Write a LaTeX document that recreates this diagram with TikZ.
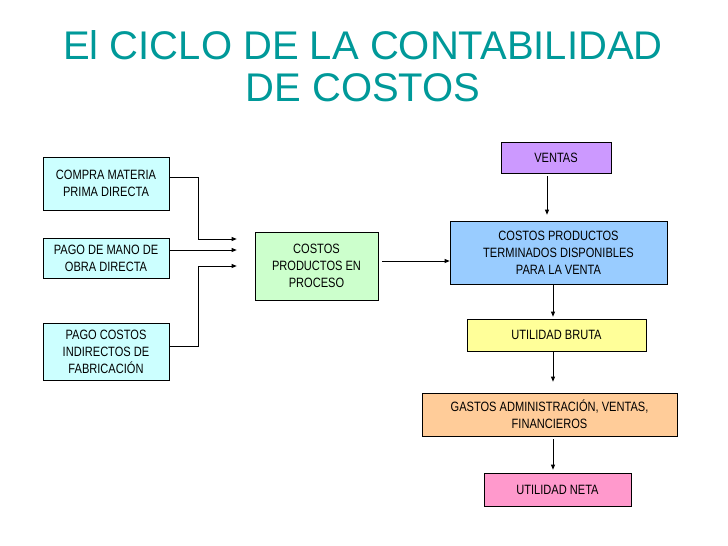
\documentclass[tikz,border=0pt]{standalone}
\usepackage{fontspec}
\setmainfont{Liberation Sans}
\newfontfamily\boxfont[FakeStretch=0.82]{Liberation Sans}
\usepackage{tikz}
\usetikzlibrary{positioning, arrows.meta}
\definecolor{titleteal}{RGB}{0,153,153}
\definecolor{cyanbox}{RGB}{204,255,255}
\definecolor{greenbox}{RGB}{204,255,204}
\definecolor{bluebox}{RGB}{153,204,255}
\definecolor{violetbox}{RGB}{204,153,255}
\definecolor{yellowbox}{RGB}{255,255,153}
\definecolor{orangebox}{RGB}{255,204,153}
\definecolor{pinkbox}{RGB}{255,153,204}

\begin{document}
\begin{tikzpicture}[
    x=1pt, y=-1pt,
    box/.style={
        draw, line width=0.7pt,
        inner sep=0pt, align=center,
        font=\boxfont\fontsize{13.5}{17}\selectfont
    },
    arr/.style={-{Triangle[length=5pt,width=4pt]}, line width=0.7pt},
]
\useasboundingbox (0,0) rectangle (728,546);

% Title
\node[text=titleteal, align=center, font=\fontsize{40}{42}\selectfont] (title) at (363,66)
    {El CICLO DE LA CONTABILIDAD\\DE COSTOS};

% Left column: inputs
\node[box, fill=cyanbox, minimum width=126pt, minimum height=53pt] (compra) at (106,183.5) {COMPRA MATERIA\\PRIMA DIRECTA};
\node[box, fill=cyanbox, minimum width=126pt, minimum height=40pt] (mano) at (106,258) {PAGO DE MANO DE\\OBRA DIRECTA};
\node[box, fill=cyanbox, minimum width=126pt, minimum height=57pt] (indirectos) at (106,351.5) {PAGO COSTOS\\INDIRECTOS DE\\FABRICACIÓN};

% Middle: work in process
\node[box, fill=greenbox, minimum width=123pt, minimum height=68pt] (proceso) at (316.5,266) {COSTOS\\PRODUCTOS EN\\PROCESO};

% Right column
\node[box, fill=violetbox, minimum width=110pt, minimum height=31pt] (ventas) at (556,157.5) {VENTAS};
\node[box, fill=bluebox, minimum width=217pt, minimum height=63pt] (terminados) at (558.5,252.5) {COSTOS PRODUCTOS\\TERMINADOS DISPONIBLES\\PARA LA VENTA};
\node[box, fill=yellowbox, minimum width=179pt, minimum height=32pt] (bruta) at (556.5,335) {UTILIDAD BRUTA};
\node[box, fill=orangebox, minimum width=255pt, minimum height=43pt] (gastos) at (549.5,414.5) {GASTOS ADMINISTRACIÓN, VENTAS,\\FINANCIEROS};
\node[box, fill=pinkbox, minimum width=147pt, minimum height=33pt] (neta) at (557.5,489.5) {UTILIDAD NETA};

% Inputs into process (elbow connectors)
\draw[arr, shorten >=18pt] ([yshift=6pt]compra.east) -- ++(29,0) |- ([yshift=27pt]proceso.west);
\draw[arr, shorten >=18pt] ([yshift=8pt]mano.east) -- ([yshift=16pt]proceso.west);
\draw[arr, shorten >=18pt] ([yshift=5pt]indirectos.east) -- ++(29,0) |- (proceso.west);

% Process into finished goods
\draw[arr, shorten <=4pt] ([yshift=5pt]proceso.east) -- ([yshift=5pt]proceso.east -| terminados.west);

% Right column, downward
\draw[arr, shorten <=3pt, shorten >=6pt] ([xshift=-9pt]ventas.south) -- ([xshift=-9pt]ventas.south |- terminados.north);
\draw[arr, shorten >=2pt] ([xshift=-5.5pt]terminados.south) -- ([xshift=-5.5pt]terminados.south |- bruta.north);
\draw[arr, shorten >=11pt] ([xshift=-3.5pt]bruta.south) -- ([xshift=-3.5pt]bruta.south |- gastos.north);
\draw[arr, shorten <=3pt, shorten >=3pt] ([xshift=3.5pt]gastos.south) -- ([xshift=3.5pt]gastos.south |- neta.north);

\end{tikzpicture}
\end{document}
